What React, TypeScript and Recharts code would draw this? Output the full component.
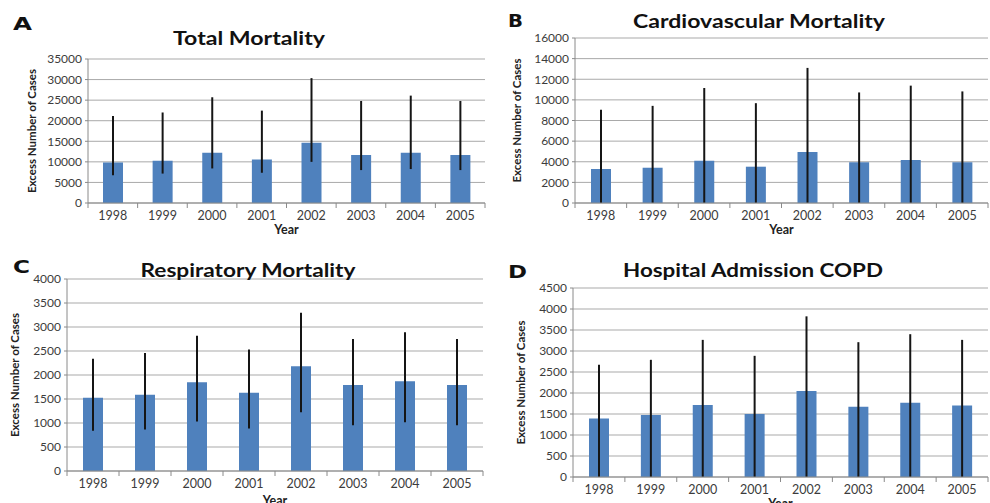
import { BarChart, Bar, XAxis, YAxis, CartesianGrid, ErrorBar } from 'recharts';

const years = ['1998', '1999', '2000', '2001', '2002', '2003', '2004', '2005'];

const totalMean = [9850, 10250, 12200, 10600, 14650, 11650, 12200, 11650];
const totalLow = [6750, 7150, 8400, 7350, 10000, 8000, 8250, 8000];
const totalHigh = [21150, 22000, 25700, 22450, 30350, 24800, 26100, 24800];
const totalTicks = [0, 5000, 10000, 15000, 20000, 25000, 30000, 35000];

const cardioMean = [3300, 3420, 4100, 3520, 4940, 3950, 4160, 3950];
const cardioLow = [0, 0, 0, 0, 0, 0, 0, 0];
const cardioHigh = [9050, 9420, 11150, 9680, 13100, 10720, 11380, 10820];
const cardioTicks = [0, 2000, 4000, 6000, 8000, 10000, 12000, 14000, 16000];

const respMean = [1525, 1590, 1850, 1630, 2180, 1790, 1870, 1790];
const respLow = [840, 865, 1030, 885, 1225, 955, 1015, 955];
const respHigh = [2340, 2460, 2820, 2530, 3295, 2750, 2890, 2750];
const respTicks = [0, 500, 1000, 1500, 2000, 2500, 3000, 3500, 4000];

const copdMean = [1395, 1475, 1715, 1500, 2050, 1675, 1770, 1700];
const copdLow = [0, 0, 0, 0, 0, 0, 0, 0];
const copdHigh = [2670, 2790, 3265, 2885, 3825, 3210, 3400, 3265];
const copdTicks = [0, 500, 1000, 1500, 2000, 2500, 3000, 3500, 4000, 4500];

const FONT = 'Lato, "Open Sans", sans-serif';
const barColor = '#4f81bd';
const gridColor = '#a9a9a9';
const axisColor = '#8a8a8a';
const tickColor = '#3c3c3c';

function buildRows(means: number[], lows: number[], highs: number[]) {
  return years.map((year, i) => ({
    year,
    value: means[i],
    err: [means[i] - lows[i], highs[i] - means[i]],
  }));
}

type PanelSpec = {
  letter: string;
  title: string;
  rows: any[];
  ticks: number[];
  left: number;
  top: number;
  width: number;
  height: number;
  plotLeft: number;
  plotRight: number;
  plotTop: number;
  plotBottom: number;
  yLabelX: number;
  yearOffset: number;
  titleX: number;
  titleY: number;
  titleLen: number;
  letterX: number;
  letterY: number;
  letterLen: number;
};

const panels: PanelSpec[] = [
  {
    letter: 'A', title: 'Total Mortality', rows: buildRows(totalMean, totalLow, totalHigh), ticks: totalTicks,
    left: 0, top: 0, width: 495, height: 250,
    plotLeft: 88, plotRight: 485, plotTop: 59, plotBottom: 203,
    yLabelX: 32, yearOffset: 16, titleX: 249, titleY: 45, titleLen: 152, letterX: 13, letterY: 30, letterLen: 19,
  },
  {
    letter: 'B', title: 'Cardiovascular Mortality', rows: buildRows(cardioMean, cardioLow, cardioHigh), ticks: cardioTicks,
    left: 495, top: 0, width: 495, height: 250,
    plotLeft: 80, plotRight: 493, plotTop: 38, plotBottom: 203,
    yLabelX: 22, yearOffset: 16, titleX: 264, titleY: 28, titleLen: 252, letterX: 13, letterY: 27, letterLen: 15,
  },
  {
    letter: 'C', title: 'Respiratory Mortality', rows: buildRows(respMean, respLow, respHigh), ticks: respTicks,
    left: 0, top: 250, width: 495, height: 253,
    plotLeft: 67, plotRight: 483, plotTop: 29, plotBottom: 221,
    yLabelX: 15, yearOffset: -2, titleX: 248, titleY: 27, titleLen: 215, letterX: 13, letterY: 23, letterLen: 17,
  },
  {
    letter: 'D', title: 'Hospital Admission COPD', rows: buildRows(copdMean, copdLow, copdHigh), ticks: copdTicks,
    left: 495, top: 250, width: 495, height: 253,
    plotLeft: 78, plotRight: 493, plotTop: 38, plotBottom: 227,
    yLabelX: 26, yearOffset: -5, titleX: 258, titleY: 27, titleLen: 260, letterX: 13, letterY: 28, letterLen: 19,
  },
];

function Panel({ p }: { p: PanelSpec }) {
  const marginLeft = 3;
  const band = (p.plotRight - p.plotLeft) / years.length;
  const max = p.ticks[p.ticks.length - 1];

  const catTick = (props: any) => {
    const { x, index, payload } = props;
    return (
      <g>
        <line x1={x - band / 2} x2={x - band / 2} y1={p.plotBottom} y2={p.plotBottom + 5} stroke={axisColor} />
        {index === years.length - 1 && (
          <line x1={x + band / 2} x2={x + band / 2} y1={p.plotBottom} y2={p.plotBottom + 5} stroke={axisColor} />
        )}
        <text x={x} y={p.plotBottom + 17} textAnchor="middle" fontSize={12.5} fill={tickColor} fontFamily={FONT}>
          {payload.value}
        </text>
      </g>
    );
  };

  return (
    <div style={{ position: 'absolute', left: p.left, top: p.top }}>
      <BarChart
        width={p.width}
        height={p.height}
        data={p.rows}
        barSize={20}
        margin={{ top: p.plotTop, right: p.width - p.plotRight, left: marginLeft, bottom: 0 }}
      >
        <CartesianGrid vertical={false} stroke={gridColor} />
        <XAxis
          dataKey="year"
          height={p.height - p.plotBottom}
          interval={0}
          tickLine={false}
          stroke={axisColor}
          tick={catTick}
          label={{
            value: 'Year',
            position: 'insideBottom',
            offset: p.yearOffset,
            style: { fontFamily: FONT, fontWeight: 700, fontSize: 12.5, fill: '#222' },
          }}
        />
        <YAxis
          width={p.plotLeft - marginLeft}
          domain={[0, max]}
          ticks={p.ticks}
          interval={0}
          tickSize={3}
          tickMargin={3}
          stroke={axisColor}
          tick={{ fontSize: 12, fill: tickColor, fontFamily: FONT }}
          label={{
            value: 'Excess Number of Cases',
            angle: -90,
            position: 'insideLeft',
            offset: p.yLabelX - marginLeft,
            style: { textAnchor: 'middle', fontFamily: FONT, fontWeight: 700, fontSize: 11.5, fill: '#222' },
          }}
        />
        <Bar dataKey="value" fill={barColor} isAnimationActive={false}>
          <ErrorBar dataKey="err" direction="y" width={0} strokeWidth={2} stroke="#151515" isAnimationActive={false} />
        </Bar>
      </BarChart>
      <svg
        width={p.width}
        height={p.height}
        style={{ position: 'absolute', left: 0, top: 0, pointerEvents: 'none' }}
      >
        <text
          x={p.letterX}
          y={p.letterY}
          fontFamily='"DejaVu Sans", sans-serif'
          fontWeight={700}
          fontSize={18}
          fill="#111"
          textLength={p.letterLen}
          lengthAdjust="spacingAndGlyphs"
        >
          {p.letter}
        </text>
        <text
          x={p.titleX}
          y={p.titleY}
          textAnchor="middle"
          fontFamily={FONT}
          fontWeight={700}
          fontSize={19}
          fill="#111"
          textLength={p.titleLen}
          lengthAdjust="spacingAndGlyphs"
        >
          {p.title}
        </text>
      </svg>
    </div>
  );
}

export default function App() {
  return (
    <div style={{ position: 'absolute', left: 0, top: 0, width: 990, height: 503, background: '#fff', overflow: 'hidden' }}>
      {panels.map((p) => (
        <Panel key={p.letter} p={p} />
      ))}
    </div>
  );
}
